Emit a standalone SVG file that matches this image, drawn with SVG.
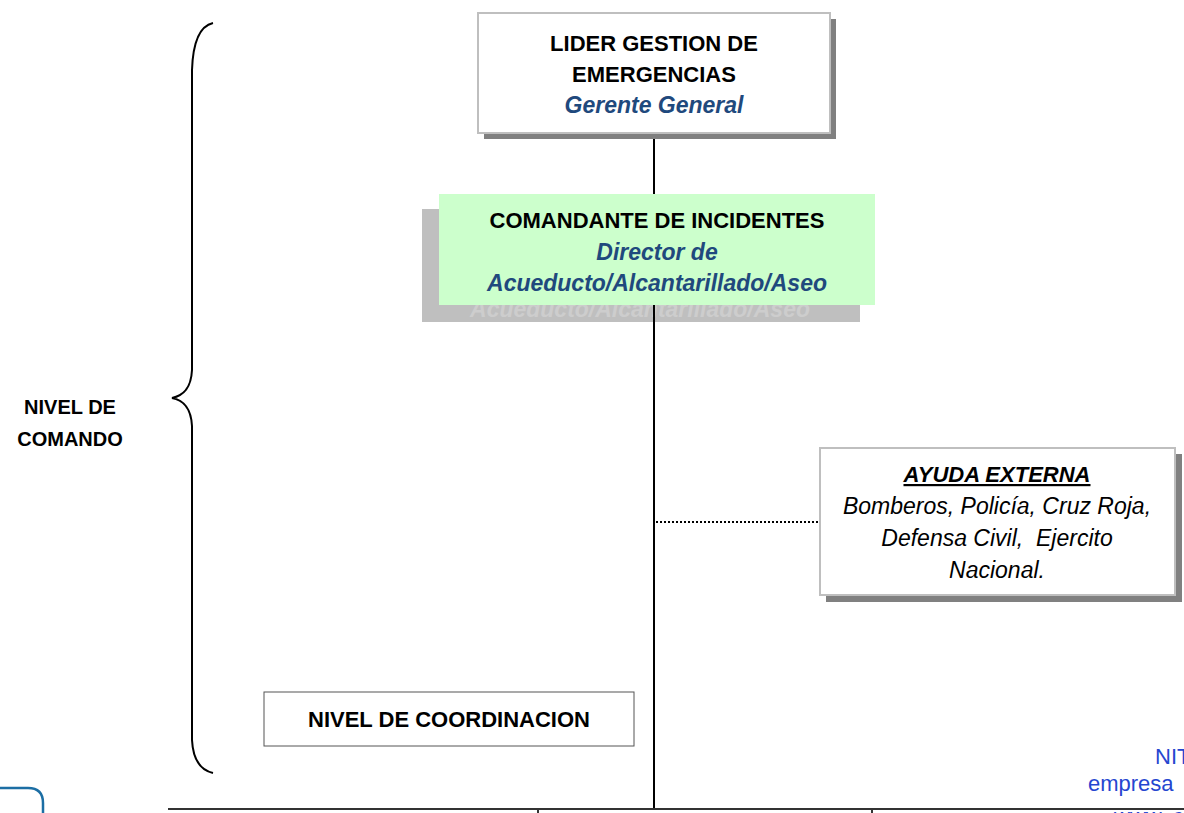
<svg xmlns="http://www.w3.org/2000/svg" width="1184" height="813" viewBox="0 0 1184 813">
<style>
.b{font-family:"Liberation Sans",Arial,sans-serif;font-weight:bold;font-size:22px;fill:#000;text-anchor:middle}
.bi{font-family:"Liberation Sans",Arial,sans-serif;font-weight:bold;font-style:italic;font-size:23px;fill:#1f497d;text-anchor:middle}
.i{font-family:"Liberation Sans",Arial,sans-serif;font-style:italic;font-size:23px;fill:#000;text-anchor:middle}
.box{fill:#fff;stroke:#bfbfbf;stroke-width:2}
.sh{fill:#808080}
.web{font-family:"Liberation Sans",Arial,sans-serif;font-size:22px;fill:#2546d0}
</style>
<rect width="1184" height="813" fill="#fff"/>

<g id="brace">
<path d="M213,23 C200,26 193,40 192,70 L192,370 C191,390 182,396 172,398 C182,400 191,406 192,426 L192,740 C193,760 200,770 213,773" fill="none" stroke="#000" stroke-width="2"/>
</g>
<g id="nivel-comando">
<text class="b" x="70" y="414" style="font-size:20px">NIVEL DE</text>
<text class="b" x="70" y="446" style="font-size:20px">COMANDO</text>
</g>

<g id="comandante-shadow">
<rect x="422" y="209" width="438" height="113" fill="#bfbfbf"/>
<text class="bi" x="640" y="317" style="fill:#cdcdcd">Acueducto/Alcantarillado/Aseo</text>
</g>

<g id="connectors">
<line x1="654" y1="134" x2="654" y2="809" stroke="#000" stroke-width="2"/>
<line x1="656" y1="522" x2="818" y2="522" stroke="#000" stroke-width="2" stroke-dasharray="2,2"/>
<line x1="168" y1="809" x2="1184" y2="809" stroke="#333" stroke-width="2"/>
<line x1="538" y1="809" x2="538" y2="813" stroke="#333" stroke-width="2"/>
<line x1="872" y1="809" x2="872" y2="813" stroke="#333" stroke-width="2"/>
</g>

<g id="lider">
<rect class="sh" x="484" y="19" width="352" height="120"/>
<rect class="box" x="478" y="13" width="352" height="120"/>
<text class="b" x="654" y="51">LIDER GESTION DE</text>
<text class="b" x="654" y="82">EMERGENCIAS</text>
<text class="bi" x="654" y="113">Gerente General</text>
</g>

<g id="comandante">
<rect x="439" y="194" width="436" height="111" fill="#ccffcc"/>
<text class="b" x="657" y="228">COMANDANTE DE INCIDENTES</text>
<text class="bi" x="657" y="260">Director de</text>
<text class="bi" x="657" y="291">Acueducto/Alcantarillado/Aseo</text>
</g>

<g id="ayuda">
<rect class="sh" x="826" y="454" width="356" height="148"/>
<rect class="box" x="820" y="448" width="355" height="147"/>
<text class="b" x="997" y="482" style="font-style:italic;text-decoration:underline">AYUDA EXTERNA</text>
<text class="i" x="997" y="514">Bomberos, Policía, Cruz Roja,</text>
<text class="i" x="997" y="546">Defensa Civil,&#160; Ejercito</text>
<text class="i" x="997" y="578">Nacional.</text>
</g>

<g id="coordinacion">
<rect x="264" y="692" width="370" height="54" fill="#fff" stroke="#555" stroke-width="1"/>
<text class="b" x="449" y="727">NIVEL DE COORDINACION</text>
</g>

<g id="footer">
<path d="M0,788 L28,788 Q43,788 43,803 L43,813" fill="none" stroke="#1c6ea4" stroke-width="2.5"/>
<text class="web" x="1155" y="764">NIT</text>
<text class="web" x="1088" y="791">empresa</text>
<text class="web" x="1114" y="824">www. c</text>
</g>
</svg>
